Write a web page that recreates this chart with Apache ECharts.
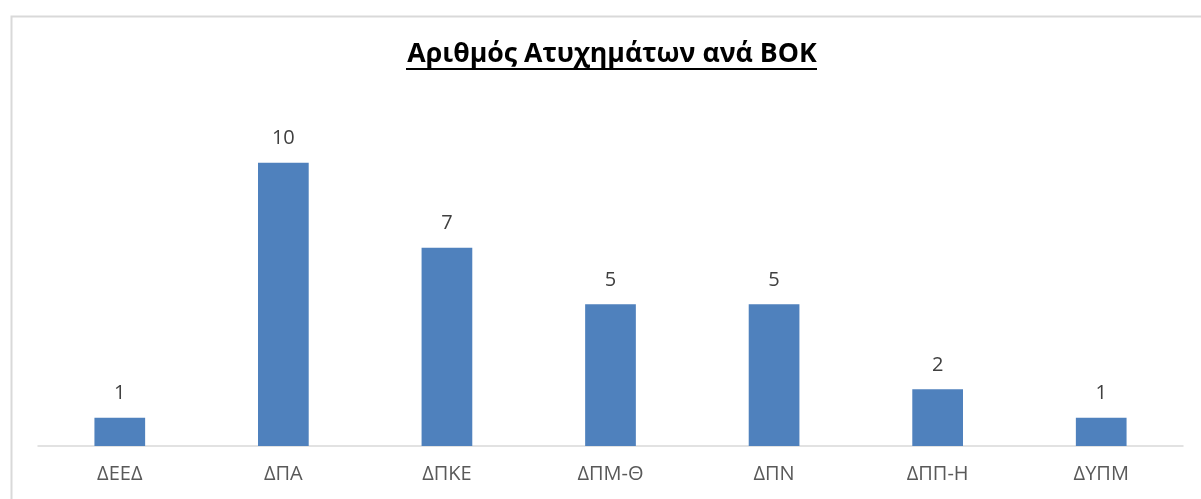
<!DOCTYPE html>
<html>
<head>
<meta charset="utf-8">
<script src="https://cdn.jsdelivr.net/npm/echarts@6/dist/echarts.min.js"></script>
<style>
html,body{margin:0;padding:0;background:#fff;}
#c{width:1201px;height:499px;}
</style>
</head>
<body>
<div id="c"></div>
<script>
const categories = ['ΔΕΕΔ', 'ΔΠΑ', 'ΔΠΚΕ', 'ΔΠΜ-Θ', 'ΔΠΝ', 'ΔΠΠ-Η', 'ΔΥΠΜ'];
const values = [1, 10, 7, 5, 5, 2, 1];
const titleText = 'Αριθμός Ατυχημάτων ανά ΒΟΚ';

const chart = echarts.init(document.getElementById('c'));
chart.setOption({
  animation: false,
  title: {
    text: titleText,
    left: 607,
    textAlign: 'center',
    top: 36,
    textStyle: {fontFamily: 'Open Sans', fontWeight: 'bold', fontSize: 26.7, color: '#000'}
  },
  graphic: [
    {type: 'rect', left: 9, top: 14, shape: {width: 1300, height: 600},
     style: {fill: 'none', stroke: '#d9d9d9', lineWidth: 2}, silent: true},
    {type: 'line', shape: {x1: 406, y1: 69, x2: 817, y2: 69},
     style: {stroke: '#000', lineWidth: 2}, silent: true}
  ],
  grid: {left: 38, right: 18, top: 106, bottom: 53, containLabel: false},
  xAxis: {
    type: 'category',
    data: categories,
    axisLine: {lineStyle: {color: '#d9d9d9', width: 1.5}},
    axisTick: {show: false},
    axisLabel: {color: '#595959', fontSize: 20, fontFamily: 'Open Sans', margin: 18}
  },
  yAxis: {
    type: 'value',
    min: 0, max: 12,
    show: false,
    splitLine: {show: false}
  },
  series: [{
    type: 'bar',
    data: values,
    barWidth: '31%',
    itemStyle: {color: '#4F81BD'},
    label: {show: true, position: 'top', distance: 14, color: '#404040', fontSize: 20, fontFamily: 'Open Sans'}
  }]
});
</script>
</body>
</html>
